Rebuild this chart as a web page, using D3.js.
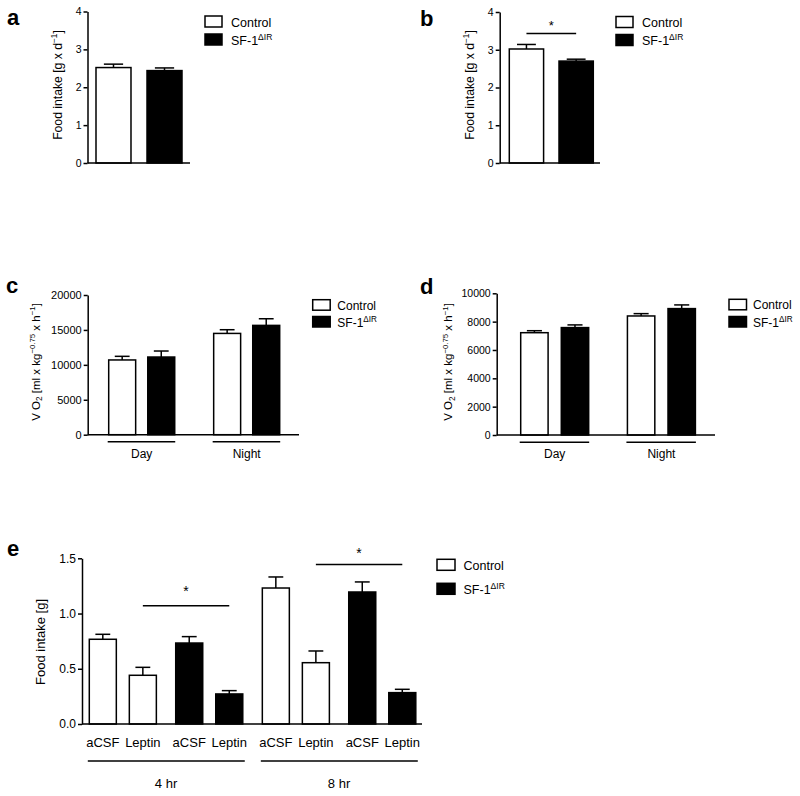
<!DOCTYPE html>
<html><head><meta charset="utf-8">
<script src="https://cdn.jsdelivr.net/npm/d3@7"></script>
<style>
body{margin:0;background:#fff}
svg{display:block}
text{font-family:"Liberation Sans",Arial,Helvetica,sans-serif;fill:#000}
</style>
</head><body>
<svg id="chart" width="800" height="796"></svg>
<script>
// ---------- data ----------
const seriesNames = ["Control", "SF-1"];
const seriesSup = ["", "\u0394IR"];
const seriesFill = ["#fff", "#000"];

const aMean = [2.52, 2.44];
const aErr  = [0.09, 0.07];
const bMean = [3.02, 2.70];
const bErr  = [0.12, 0.05];
const bSigY = 3.43;

const cdGroups = ["Day", "Night"];
const cControl = [10700, 14500];
const cControlErr = [520, 530];
const cSF1 = [11120, 15650];
const cSF1Err = [860, 950];

const dControl = [7220, 8400];
const dControlErr = [140, 165];
const dSF1 = [7580, 8920];
const dSF1Err = [190, 260];

const eTimes = ["4 hr", "8 hr"];
const eTreatments = ["aCSF", "Leptin"];
// order: [4hr aCSF, 4hr Leptin, 8hr aCSF, 8hr Leptin]
const eControl = [0.767, 0.441, 1.231, 0.555];
const eControlErr = [0.045, 0.072, 0.100, 0.106];
const eSF1 = [0.733, 0.272, 1.195, 0.284];
const eSF1Err = [0.058, 0.030, 0.091, 0.030];
const eSigY = [1.07, 1.445];

const abTicks = [0, 1, 2, 3, 4];
const cTicks = [0, 5000, 10000, 15000, 20000];
const dTicks = [0, 2000, 4000, 6000, 8000, 10000];
const eTicks = [0, 0.5, 1.0, 1.5];

// ---------- helpers ----------
const svg = d3.select("#chart");
const LW = 1.5;
const FF = '"Liberation Sans",Arial,Helvetica,sans-serif';

function yAxis(g, y, ticks, x0, fmt, fs) {
  const ax = g.append("g").attr("transform", `translate(${x0},0)`)
    .call(d3.axisLeft(y).tickValues(ticks).tickFormat(fmt).tickSize(4).tickSizeOuter(0).tickPadding(2));
  ax.attr("font-family", FF).attr("font-size", fs);
  ax.selectAll("path,line").attr("stroke", "#000").attr("stroke-width", LW);
  ax.selectAll("text").attr("fill", "#000");
  return ax;
}
function xLine(g, y, x0, x1) {
  g.append("line").attr("x1", x0).attr("x2", x1).attr("y1", y(0)).attr("y2", y(0))
    .attr("stroke", "#000").attr("stroke-width", LW);
}
function drawBars(g, items, y, capFrac) {
  const eg = g.append("g").attr("stroke", "#000").attr("stroke-width", LW);
  items.forEach(d => {
    const cx = d.x + d.w / 2, cw = d.w * capFrac, yt = y(d.v + d.e);
    eg.append("line").attr("x1", cx).attr("x2", cx).attr("y1", y(d.v)).attr("y2", yt);
    eg.append("line").attr("x1", cx - cw / 2).attr("x2", cx + cw / 2).attr("y1", yt).attr("y2", yt);
  });
  g.append("g").selectAll("rect").data(items).join("rect")
    .attr("x", d => d.x).attr("width", d => d.w)
    .attr("y", d => y(d.v)).attr("height", d => y(0) - y(d.v))
    .attr("fill", d => d.fill).attr("stroke", "#000").attr("stroke-width", LW);
}
function ylabel(g, x, y, parts, fs) {
  const t = g.append("text").attr("transform", `translate(${x},${y}) rotate(-90)`)
    .attr("text-anchor", "middle").attr("font-size", fs);
  let shift = 0;
  parts.forEach(p => {
    const ts = t.append("tspan").text(p.t);
    let target = 0, size = fs;
    if (p.sup) { target = -fs * 0.38; size = fs * 0.68; }
    if (p.sub) { target = fs * 0.25; size = fs * 0.72; }
    ts.attr("font-size", size).attr("dy", target - shift);
    shift = target;
  });
}
function legend(g, x, ys, rw, rh, tx, fs) {
  seriesNames.forEach((n, i) => {
    g.append("rect").attr("x", x).attr("y", ys[i]).attr("width", rw).attr("height", rh)
      .attr("fill", seriesFill[i]).attr("stroke", "#000").attr("stroke-width", LW);
    const t = g.append("text").attr("x", tx).attr("y", ys[i] + rh - 0.5).attr("font-size", fs);
    t.append("tspan").text(n);
    if (seriesSup[i]) t.append("tspan").text(seriesSup[i]).attr("font-size", fs * 0.68).attr("dy", -fs * 0.38);
  });
}
function panelLabel(x, y, s) {
  svg.append("text").attr("x", x).attr("y", y).attr("font-size", 22).attr("font-weight", "bold").text(s);
}
function sig(g, x0, x1, yv, y, off, fs) {
  g.append("line").attr("x1", x0).attr("x2", x1).attr("y1", y(yv)).attr("y2", y(yv))
    .attr("stroke", "#000").attr("stroke-width", LW);
  g.append("text").attr("x", (x0 + x1) / 2).attr("y", y(yv) - off).attr("text-anchor", "middle")
    .attr("font-size", fs).text("*");
}
const fmtInt = d3.format("d"), fmt1 = d3.format(".1f");

// ---------- panel a ----------
{
  const g = svg.append("g");
  const y = d3.scaleLinear().domain([0, 4]).range([163, 11.5]);
  const x = d3.scaleBand().domain(seriesNames).range([96, 182]).paddingInner(0.314);
  const items = seriesNames.map((n, i) => ({ x: x(n), w: x.bandwidth(), v: aMean[i], e: aErr[i], fill: seriesFill[i] }));
  drawBars(g, items, y, 0.55);
  yAxis(g, y, abTicks, 87.5, fmtInt, 10.5);
  xLine(g, y, 87.5, 190);
  legend(g, 205, [16, 34], 17, 11, 231, 12.5);
  ylabel(g, 61.5, 85, [{ t: "Food intake [g x d" }, { t: "\u22121", sup: true }, { t: "]" }], 12.2);
  panelLabel(7, 25, "a");
}
// ---------- panel b ----------
{
  const g = svg.append("g");
  const y = d3.scaleLinear().domain([0, 4]).range([163, 12]);
  const x = d3.scaleBand().domain(seriesNames).range([509.3, 593.3]).paddingInner(0.31);
  const items = seriesNames.map((n, i) => ({ x: x(n), w: x.bandwidth(), v: bMean[i], e: bErr[i], fill: seriesFill[i] }));
  drawBars(g, items, y, 0.55);
  yAxis(g, y, abTicks, 499.7, fmtInt, 10.5);
  xLine(g, y, 499.7, 600);
  sig(g, x(seriesNames[0]) + x.bandwidth() / 2, x(seriesNames[1]) + x.bandwidth() / 2, bSigY, y, 4, 13);
  legend(g, 616, [16.5, 34.5], 17, 11, 642, 12.5);
  ylabel(g, 474, 85, [{ t: "Food intake [g x d" }, { t: "\u22121", sup: true }, { t: "]" }], 12.2);
  panelLabel(420, 26, "b");
}
// ---------- panels c, d ----------
function vo2Panel(opt) {
  const g = svg.append("g");
  const y = d3.scaleLinear().domain([0, opt.max]).range([opt.y0, opt.y1]);
  const xo = d3.scaleBand().domain(cdGroups).range(opt.xr).paddingInner(opt.po);
  const xi = d3.scaleBand().domain(seriesNames).range([0, xo.bandwidth()]).paddingInner(opt.pi);
  const items = [];
  cdGroups.forEach((gr, j) => {
    seriesNames.forEach((n, i) => {
      items.push({ x: xo(gr) + xi(n), w: xi.bandwidth(), v: opt.vals[i][j], e: opt.errs[i][j], fill: seriesFill[i] });
    });
  });
  drawBars(g, items, y, 0.55);
  yAxis(g, y, opt.ticks, opt.ax, fmtInt, opt.tfs);
  xLine(g, y, opt.ax, opt.axEnd);
  cdGroups.forEach(gr => {
    g.append("line").attr("x1", xo(gr) - 1).attr("x2", xo(gr) + xo.bandwidth() + 0.5)
      .attr("y1", opt.gy).attr("y2", opt.gy).attr("stroke", "#000").attr("stroke-width", LW);
    g.append("text").attr("x", xo(gr) + xo.bandwidth() / 2).attr("y", opt.gy + 16)
      .attr("text-anchor", "middle").attr("font-size", 12).text(gr);
  });
  legend(g, opt.lx, opt.ly, 17.5, 10.5, opt.ltx, 12);
  ylabel(g, opt.ylx, 362, [{ t: "V O" }, { t: "2", sub: true }, { t: " [ml x kg" }, { t: "\u22120.75", sup: true }, { t: " x h" }, { t: "\u22121", sup: true }, { t: "]" }], 11.5);
  panelLabel(opt.plx, opt.ply, opt.pl);
}
vo2Panel({
  max: 20000, y0: 434.7, y1: 295, xr: [108.7, 279.7], po: 0.371, pi: 0.31,
  vals: [cControl, cSF1], errs: [cControlErr, cSF1Err], ticks: cTicks, ax: 87.7, axEnd: 299, tfs: 11,
  gy: 441.7, lx: 312.7, ly: [299.7, 316.5], ltx: 337.3, ylx: 39.5, plx: 6, ply: 292.5, pl: "c"
});
vo2Panel({
  max: 10000, y0: 435, y1: 293.3, xr: [520.7, 695.4], po: 0.363, pi: 0.325,
  vals: [dControl, dSF1], errs: [dControlErr, dSF1Err], ticks: dTicks, ax: 496.7, axEnd: 715, tfs: 10.5,
  gy: 442.3, lx: 729, ly: [299.3, 316.5], ltx: 753, ylx: 452, plx: 420, ply: 294, pl: "d"
});
// ---------- panel e ----------
{
  const g = svg.append("g");
  const y = d3.scaleLinear().domain([0, 1.5]).range([724, 558.3]);
  const xt = d3.scaleBand().domain(eTimes).range([89.3, 415.8]).paddingInner(0.113);
  const xg = d3.scaleBand().domain(seriesNames).range([0, xt.bandwidth()]).paddingInner(0.224);
  const xr = d3.scaleBand().domain(eTreatments).range([0, xg.bandwidth()]).paddingInner(0.325);
  const vals = [eControl, eSF1], errs = [eControlErr, eSF1Err];
  const items = [];
  eTimes.forEach((t, ti) => seriesNames.forEach((n, si) => eTreatments.forEach((tr, ri) => {
    const k = ti * 2 + ri;
    items.push({ x: xt(t) + xg(n) + xr(tr), w: xr.bandwidth(), v: vals[si][k], e: errs[si][k], fill: seriesFill[si], tr });
  })));
  drawBars(g, items, y, 0.55);
  yAxis(g, y, eTicks, 82, fmt1, 12);
  xLine(g, y, 82, 422);
  g.selectAll("text.tl").data(items).join("text").attr("class", "tl")
    .attr("x", d => d.x + d.w / 2).attr("y", 747).attr("text-anchor", "middle").attr("font-size", 13).text(d => d.tr);
  eTimes.forEach(t => {
    g.append("line").attr("x1", xt(t) - 1.5).attr("x2", xt(t) + xt.bandwidth() + 2)
      .attr("y1", 761).attr("y2", 761).attr("stroke", "#000").attr("stroke-width", LW);
    g.append("text").attr("x", xt(t) + xt.bandwidth() / 2).attr("y", 788).attr("text-anchor", "middle")
      .attr("font-size", 13).text(t);
  });
  const offs = [10, 6];
  eTimes.forEach((t, ti) => {
    const a = xt(t) + xg(seriesNames[0]) + xr("Leptin") + xr.bandwidth() / 2;
    const b = xt(t) + xg(seriesNames[1]) + xr("Leptin") + xr.bandwidth() / 2;
    sig(g, a, b, eSigY[ti], y, offs[ti], 14);
  });
  legend(g, 437, [559.3, 583.3], 18, 11, 463.5, 12.5);
  ylabel(g, 45, 642, [{ t: "Food intake [g]" }], 13);
  panelLabel(7, 556, "e");
}
</script>
</body></html>
